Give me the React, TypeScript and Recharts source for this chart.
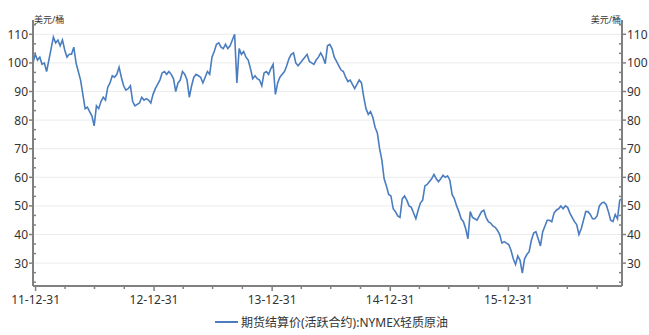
import { LineChart, Line, XAxis, YAxis, CartesianGrid } from 'recharts';

// weekly settlement prices (USD/bbl)
const prices2011 = [100, 103];
const prices2012 = [
  101, 102, 99.5, 100, 97, 101, 105, 109, 107, 108,
  106, 108, 104.5, 102, 103, 103, 105.5, 100, 97, 94,
  89, 84, 84.5, 83, 81.5, 78, 85, 84, 86.5, 88,
  87, 91.5, 93, 95.5, 95, 96, 98.5, 95, 92, 90.5,
  91, 92, 86.5, 85, 85.5, 86, 88, 87, 87.5, 87,
  86, 89,
];
const prices2013 = [
  91, 92.5, 94, 96.5, 97, 96, 97, 96, 94.5, 90,
  93, 94, 97, 96, 94, 88, 92, 95, 96, 95.5,
  95, 93, 95, 97, 96, 102, 104, 106.5, 107, 105.5,
  105, 106.5, 105, 106, 108, 110, 93, 105, 103, 104,
  102, 101, 98, 94.5, 95.5, 94.5, 94, 92, 96.5, 97,
  96, 98,
];
const prices2014 = [
  99.5, 89, 93, 95, 96, 97, 99, 101.5, 103, 103.5,
  100, 99, 100, 101, 102, 103, 100.5, 100, 99.5, 101,
  102, 103.5, 102, 99.7, 106, 106.5, 105, 102, 100.5, 99,
  97.5, 97, 95, 93.5, 94, 92.5, 91, 92.5, 94, 93,
  88, 84, 82, 83, 81, 77.5, 75.5, 70, 66, 59.5,
  57, 54,
];
const prices2015 = [
  53.5, 49, 48, 46.5, 46, 52.5, 53.5, 52, 50, 49.5,
  47.5, 45.5, 48.5, 51, 52, 57, 57.5, 58.5, 59.5, 61,
  59.5, 58.5, 59.5, 60.7, 60, 60.5, 59, 54, 52.5, 50,
  48, 45.5, 44.5, 42, 38.5, 48, 46, 45.5, 45, 46.5,
  48, 48.5, 46, 44.5, 44, 43, 42.5, 41.5, 40, 37,
  37.5, 37,
];
const prices2016 = [
  36.5, 34.5, 31.5, 29.5, 32.5, 31, 26.5, 31.5, 33, 34,
  38, 40.5, 41, 38.5, 36, 41, 43, 45, 45, 44.5,
  47.5, 48.5, 49, 50, 49, 50, 49.5, 47.5, 46, 44.5,
  43.5, 40, 42, 45, 48, 48, 47, 45.5, 45.5, 46.5,
  50, 51, 51.3, 50.5, 48, 45, 44.5, 47, 45.5, 52,
  52.5,
];

const yearTicks = [
  Date.UTC(2011, 11, 31), Date.UTC(2012, 11, 31), Date.UTC(2013, 11, 31),
  Date.UTC(2014, 11, 31), Date.UTC(2015, 11, 31),
];
const yearLabels = ['11-12-31', '12-12-31', '13-12-31', '14-12-31', '15-12-31'];
const majorPrices = [30, 40, 50, 60, 70, 80, 90, 100, 110];

const DAY = 86400000;
const firstWeek = Date.UTC(2011, 11, 23);
const prices = [...prices2011, ...prices2012, ...prices2013, ...prices2014, ...prices2015, ...prices2016];
const data = prices.map((price, i) => ({ date: firstWeek + i * 7 * DAY, price }));
const lastWeek = data[data.length - 1].date;

// quarter-end minor ticks on the time axis
const quarterTicks: number[] = [];
for (let y = 2012; y <= 2016; y++) {
  quarterTicks.push(Date.UTC(y, 2, 31), Date.UTC(y, 5, 30), Date.UTC(y, 8, 30));
}
const xTicks = [...yearTicks, ...quarterTicks].sort((a, b) => a - b);

// minor price ticks: three steps per 10
const yTicks: number[] = [];
for (let m = 20; m <= 110; m += 10) {
  [m, m + 10 / 3, m + 20 / 3].forEach((v) => {
    if (v >= 22 && v <= 115) yTicks.push(v);
  });
}

const BLUE = '#4a7dc0';
const AXIS = '#808080';
const TEXT = '#333333';
const FONT = '"Noto Sans", "Noto Sans CJK SC", sans-serif';

function LeftTick(props: any) {
  const { x, y, payload } = props;
  const major = majorPrices.includes(payload.value);
  if (!major) return <line x1={x} x2={x + 3} y1={y} y2={y} stroke={AXIS} strokeWidth={1.5} />;
  return (
    <g>
      <line x1={x - 4} x2={x} y1={y} y2={y} stroke={AXIS} strokeWidth={1.5} />
      <text x={x - 5} y={y} dy={4.5} textAnchor="end" fontSize={12} fill={TEXT} fontFamily={FONT}>
        {payload.value}
      </text>
    </g>
  );
}

function RightTick(props: any) {
  const { x, y, payload } = props;
  const major = majorPrices.includes(payload.value);
  if (!major) return <line x1={x - 3} x2={x} y1={y} y2={y} stroke={AXIS} strokeWidth={1.5} />;
  return (
    <g>
      <line x1={x} x2={x + 4} y1={y} y2={y} stroke={AXIS} strokeWidth={1.5} />
      <text x={x + 5} y={y} dy={4.5} textAnchor="start" fontSize={12} fill={TEXT} fontFamily={FONT}>
        {payload.value}
      </text>
    </g>
  );
}

function BottomTick(props: any) {
  const { x, y, payload } = props;
  const i = yearTicks.indexOf(payload.value);
  if (i < 0) return <line x1={x} x2={x} y1={y} y2={y + 3} stroke={AXIS} strokeWidth={1.5} />;
  return (
    <g>
      <line x1={x} x2={x} y1={y} y2={y + 5} stroke={AXIS} strokeWidth={1.5} />
      <text x={x} y={y + 18} textAnchor="middle" fontSize={12} fill={TEXT} fontFamily={FONT}>
        {yearLabels[i]}
      </text>
    </g>
  );
}

export default function App() {
  return (
    <div style={{ position: 'absolute', left: 0, top: 0, width: 649, height: 335, background: '#fff', fontFamily: FONT }}>
      <LineChart width={649} height={335} data={data} margin={{ top: 20, right: 0, left: 0, bottom: 0 }}>
        <CartesianGrid vertical={false} horizontalValues={majorPrices} yAxisId="left" stroke="#ebebeb" />
        <XAxis
          dataKey="date"
          type="number"
          domain={[firstWeek, lastWeek]}
          ticks={xTicks}
          interval={0}
          height={49}
          tickSize={0}
          tickMargin={0}
          tickLine={false}
          tick={<BottomTick />}
          axisLine={{ stroke: AXIS, strokeWidth: 2 }}
        />
        <YAxis
          yAxisId="left"
          domain={[22, 115]}
          ticks={yTicks}
          interval={0}
          width={33}
          tickSize={0}
          tickMargin={0}
          tickLine={false}
          tick={<LeftTick />}
          axisLine={{ stroke: AXIS, strokeWidth: 2 }}
        />
        <YAxis
          yAxisId="right"
          orientation="right"
          domain={[22, 115]}
          ticks={yTicks}
          interval={0}
          width={27}
          tickSize={0}
          tickMargin={0}
          tickLine={false}
          tick={<RightTick />}
          axisLine={{ stroke: AXIS, strokeWidth: 2 }}
        />
        <Line yAxisId="right" dataKey="price" stroke="none" dot={false} activeDot={false} isAnimationActive={false} />
        <Line
          yAxisId="left"
          type="linear"
          dataKey="price"
          stroke={BLUE}
          strokeWidth={1.6}
          dot={false}
          activeDot={false}
          isAnimationActive={false}
        />
      </LineChart>
      <div style={{ position: 'absolute', left: 34, top: 14, fontSize: 9, color: TEXT, lineHeight: '12px' }}>美元/桶</div>
      <div style={{ position: 'absolute', left: 560, width: 61, top: 14, fontSize: 9, color: TEXT, lineHeight: '12px', textAlign: 'right' }}>
        美元/桶
      </div>
      <div style={{ position: 'absolute', left: 215, top: 321, width: 23, height: 2, background: BLUE }} />
      <div style={{ position: 'absolute', left: 241, top: 315, fontSize: 12, lineHeight: '15px', color: TEXT, whiteSpace: 'nowrap' }}>
        期货结算价(活跃合约):NYMEX轻质原油
      </div>
    </div>
  );
}
